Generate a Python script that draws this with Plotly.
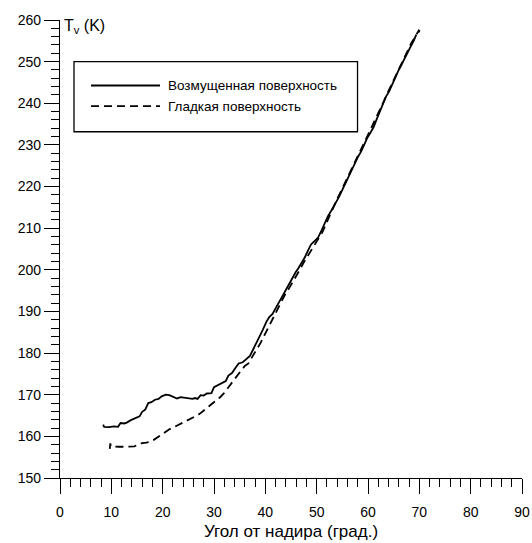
import plotly.graph_objects as go

# Rough (perturbed) surface
rough_angle = [8.4, 8.6, 9.5, 10.5, 11.3, 11.8, 12.5, 13.0, 13.8, 14.6, 15.5, 16.0, 16.6, 17.2, 17.8,
               18.5, 19.2, 19.8, 20.6, 21.3, 22.0, 22.8, 23.5, 24.3, 25.0, 25.8, 26.3, 26.8, 27.4, 28.0,
               28.6, 29.5, 30.0, 30.8, 31.6, 32.3, 32.8, 33.5, 34.2, 34.8, 35.6, 36.3, 37.0, 37.6, 38.2,
               38.8, 39.5, 40.2, 40.8, 41.4, 42.0, 42.7, 43.3, 43.9, 44.6, 45.3, 45.9, 46.5, 47.1, 47.7,
               48.3, 48.9, 49.5, 50.3, 51.0, 51.6, 52.2, 52.9, 53.6, 54.3, 55.0, 55.6, 56.2, 56.8, 57.4,
               58.0, 58.7, 59.3, 59.9, 60.5, 61.1, 61.7, 62.3, 62.9, 63.5, 64.1, 64.7, 65.3, 65.9, 66.5,
               67.1, 67.7, 68.3, 68.9, 69.4]
rough_tv = [162.8, 162.3, 162.2, 162.4, 162.3, 163.2, 163.1, 163.3, 163.9, 164.4, 164.8, 165.9, 166.4, 168.0, 168.2,
            168.8, 169.0, 169.6, 170.0, 169.9, 169.5, 169.1, 169.4, 169.3, 169.2, 169.0, 169.2, 169.0, 169.9, 169.8,
            170.3, 170.4, 171.8, 172.3, 172.9, 173.3, 174.6, 175.2, 176.5, 177.5, 177.8, 178.5, 179.3, 180.8, 182.2,
            183.6, 185.6, 187.5, 188.7, 189.4, 190.6, 192.3, 193.6, 195.0, 196.4, 198.0, 199.4, 200.5, 201.6, 203.0,
            204.6, 206.1, 206.8, 207.8, 209.6, 211.3, 212.9, 214.3, 215.8, 217.4, 219.2, 220.8, 222.5, 224.2, 225.6,
            227.0, 228.5, 230.2, 231.8, 233.0, 234.3, 236.2, 238.0, 239.9, 241.6, 242.8, 244.6, 246.2, 247.8, 249.2,
            250.8, 252.3, 253.6, 255.0, 256.5]

# Smooth surface
smooth_angle = [9.7, 9.8, 9.9, 10.5, 11.5, 12.5, 13.5, 14.5, 15.2, 16.0, 16.8, 17.5, 18.2, 18.8, 19.4,
                20.0, 20.6, 21.3, 22.0, 22.8, 23.5, 24.3, 25.0, 25.8, 26.5, 27.2, 27.9, 28.5, 29.2, 29.8,
                30.5, 31.2, 31.9, 32.6, 33.3, 34.0, 34.7, 35.4, 36.0, 36.7, 37.3, 37.9, 38.5, 39.1, 39.7,
                40.3, 40.9, 41.5, 42.1, 42.7, 43.3, 43.9, 44.5, 45.1, 45.7, 46.3, 46.9, 47.5, 48.1, 48.7,
                49.3, 49.9, 50.5, 51.1, 51.7, 52.3, 52.9, 53.5, 54.1, 54.7, 55.3, 55.9, 56.5, 57.1, 57.7,
                58.3, 58.9, 59.5, 60.1, 60.7, 61.3, 61.9, 62.5, 63.1, 63.7, 64.3, 64.9, 65.5, 66.1, 66.7,
                67.3, 67.9, 68.5, 69.1, 69.6, 69.9, 70.0, 69.8]
smooth_tv = [157.0, 158.3, 157.6, 157.5, 157.5, 157.5, 157.5, 157.6, 158.0, 158.4, 158.5, 158.7, 159.1, 159.6, 160.3,
             160.7, 161.3, 161.7, 162.1, 162.6, 162.9, 163.4, 163.9, 164.3, 164.9, 165.4, 166.0, 166.7, 167.4, 168.0,
             168.6, 169.4, 170.3, 171.5, 172.6, 173.6, 174.8, 176.0, 176.9, 177.5, 178.8, 180.0, 181.2, 182.5, 184.0,
             185.5, 186.9, 188.4, 189.8, 191.3, 192.8, 194.2, 195.3, 196.5, 197.8, 199.0, 200.4, 201.8, 203.0, 204.2,
             205.1, 206.3, 207.6, 209.0, 210.7, 212.4, 214.2, 215.9, 217.3, 218.8, 220.4, 222.0, 223.6, 225.1, 226.6,
             228.0, 229.6, 231.1, 232.6, 234.2, 235.6, 237.2, 238.8, 240.5, 242.2, 243.8, 245.4, 247.0, 248.6, 250.2,
             251.8, 253.3, 254.6, 255.8, 256.9, 257.5, 257.4, 257.0]

series_names = ["Возмущенная поверхность", "Гладкая поверхность"]
x_title = "Угол от надира (град.)"
y_title = "T<sub>v</sub> (K)"

FONT = "Liberation Sans, Arial, sans-serif"
DASH = "8px,5px"
LW = 1.8

fig = go.Figure()
fig.add_trace(go.Scatter(x=rough_angle, y=rough_tv, mode="lines", name=series_names[0],
                         line=dict(color="black", width=LW), showlegend=False))
fig.add_trace(go.Scatter(x=smooth_angle, y=smooth_tv, mode="lines", name=series_names[1],
                         line=dict(color="black", width=LW, dash=DASH), showlegend=False))

# Legend box drawn as in the original figure
fig.add_shape(type="rect", xref="paper", yref="paper", x0=0.0303, x1=0.644, y0=0.756, y1=0.909,
              line=dict(color="black", width=1.3), fillcolor="white", layer="above")
fig.add_shape(type="line", xref="paper", yref="paper", x0=0.0671, x1=0.2165, y0=0.857, y1=0.857,
              line=dict(color="black", width=LW))
fig.add_shape(type="line", xref="paper", yref="paper", x0=0.0671, x1=0.2165, y0=0.812, y1=0.812,
              line=dict(color="black", width=LW, dash=DASH))
for name, yy in zip(series_names, [0.857, 0.812]):
    fig.add_annotation(xref="paper", yref="paper", x=0.2294, y=yy, text=name, showarrow=False,
                       xanchor="left", yanchor="middle", font=dict(family=FONT, size=13.5, color="black"))

fig.add_annotation(xref="paper", yref="paper", x=0.005, y=0.985, text=y_title, showarrow=False,
                   xanchor="left", yanchor="middle", font=dict(family=FONT, size=16, color="black"))

fig.update_layout(
    width=532, height=543,
    margin=dict(l=60, r=10, t=20, b=65),
    paper_bgcolor="white", plot_bgcolor="white",
    font=dict(family=FONT, color="black"),
    xaxis=dict(range=[0, 90], dtick=10, tick0=0, showgrid=False, zeroline=False, automargin=False,
               showline=True, linecolor="black", linewidth=1.3,
               ticks="outside", ticklen=15, tickwidth=1.3, tickcolor="black",
               minor=dict(dtick=2, ticks="outside", ticklen=8, tickwidth=1.1, tickcolor="black", showgrid=False),
               tickfont=dict(size=14), ticklabelstandoff=6,
               title=dict(text=x_title, font=dict(size=17), standoff=6)),
    yaxis=dict(range=[150, 260], dtick=10, tick0=150, showgrid=False, zeroline=False, automargin=False,
               showline=True, linecolor="black", linewidth=1.3,
               ticks="outside", ticklen=15, tickwidth=1.3, tickcolor="black",
               minor=dict(dtick=2, ticks="outside", ticklen=8, tickwidth=1.1, tickcolor="black", showgrid=False),
               tickfont=dict(size=14)),
)

fig.write_html("out.html")
